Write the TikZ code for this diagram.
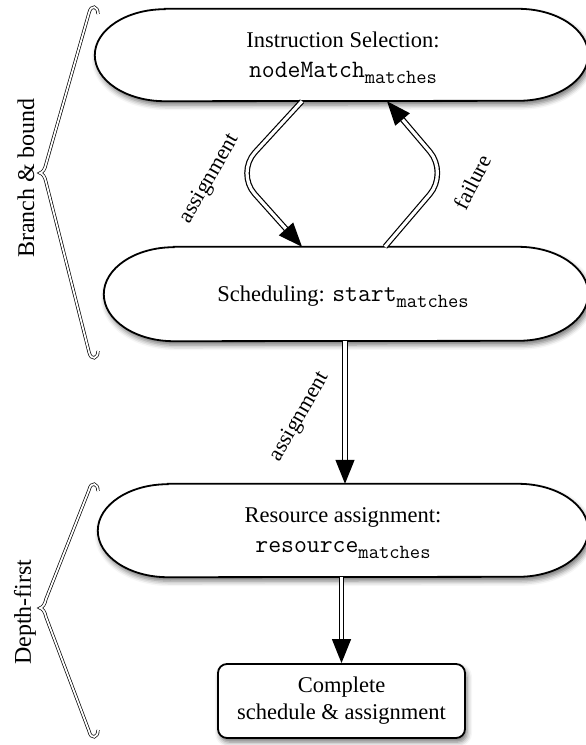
\documentclass[tikz,border=0pt]{standalone}
\usepackage{fontspec}
\setmainfont{Liberation Serif}
\usetikzlibrary{arrows.meta,shadows.blur,calc}
\newcommand\mytt[1]{{\fontsize{25}{30}\selectfont\ttfamily #1}}
\newcommand\mysub[1]{\raisebox{-6pt}{\fontsize{20}{22}\selectfont\ttfamily #1}}
\newcommand\stadium[3]{%
  \path[stadshape] ([xshift=#2]#1.north west) -- ([xshift=-#2]#1.north east)
    arc[start angle=90,end angle=-90,x radius=#2,y radius=#3]
    -- ([xshift=#2]#1.south west)
    arc[start angle=270,end angle=90,x radius=#2,y radius=#3] -- cycle;}
\tikzset{
  stadnode/.style={draw=none, inner sep=0pt},
  stadtext/.style={align=center, inner sep=0pt, font=\fontsize{22.5}{30}\selectfont},
  stadshape/.style={draw=black, line width=1.8pt, fill=white,
    blur shadow={shadow xshift=2pt, shadow yshift=-4pt, shadow blur radius=5pt, shadow opacity=55}},
  endbox/.style={draw=black, line width=1.8pt, fill=white, rounded corners=9pt,
    align=center, inner sep=0pt, font=\fontsize{22.5}{27}\selectfont,
    blur shadow={shadow xshift=2pt, shadow yshift=-4pt, shadow blur radius=5pt, shadow opacity=55}},
  dbl/.style={draw=black, line width=1.2pt, double=white, double distance=3.2pt,
    -{Triangle[length=24pt,width=19pt]}},
  brc/.style={draw=black, line width=0.7pt, double=white, double distance=1.8pt},
  lbl/.style={font=\fontsize{22}{24}\selectfont, inner sep=0pt},
  side/.style={font=\fontsize{24}{26}\selectfont, inner sep=0pt, rotate=90}
}
\begin{document}
\begin{tikzpicture}[x=1pt,y=1pt]
\useasboundingbox (0,0) rectangle (586,-745);
% shape nodes
\node[stadnode, minimum width=493pt, minimum height=92pt] (is) at (341.5,-55) {};
\node[stadnode, minimum width=484pt, minimum height=94pt] (sc) at (346,-294) {};
\node[stadnode, minimum width=490pt, minimum height=93pt] (ra) at (343,-530.5) {};
\stadium{is}{70pt}{46pt}
\stadium{sc}{70pt}{47pt}
\stadium{ra}{70pt}{46.5pt}
% texts
\node[stadtext] (ist) at (343,-58) {Instruction Selection:\\\mytt{nodeMatch}\mysub{matches}};
\node[stadtext] (sct) at (343,-297) {Scheduling: \mytt{start}\mysub{matches}};
\node[stadtext] (rat) at (343,-533) {Resource assignment:\\\mytt{resource}\mysub{matches}};
\node[endbox, minimum width=247pt, minimum height=74pt] (cs) at (341.5,-701)
  {Complete\\schedule \& assignment};
% helper coordinates
\coordinate (xa) at (302,0);
\coordinate (xl) at (236,-173);
\coordinate (xb) at (385,0);
\coordinate (xr) at (448,-173);
\coordinate (xb2) at (387,0);
\coordinate (xv) at (345,0);
% connectors
\draw[dbl, rounded corners=28pt] (is.south -| xa) -- (xl) -- (sc.north -| xa);
\draw[dbl, rounded corners=28pt] (sc.north -| xb) -- (xr) -- (is.south -| xb2);
\draw[dbl] (sc.south -| xv) -- (ra.north -| xv);
\draw[dbl] (ra.south -| cs.north) -- (cs.north);
% labels
\node[lbl, rotate=60] (l1) at (210,-179) {assignment};
\node[lbl, rotate=63] (l2) at (472,-182) {failure};
\node[lbl, rotate=60] (l3) at (300,-417) {assignment};
% braces
\draw[brc] (98,-14) .. controls (98,-6) and (91,-4) .. (89,-13) -- (46,-164)
  .. controls (45,-169) and (43,-172) .. (40,-173)
  .. controls (43,-174) and (45,-177) .. (46,-182) -- (89,-352)
  .. controls (91,-361) and (98,-359) .. (98,-351);
\draw[brc] (98,-491) .. controls (98,-483) and (91,-481) .. (89,-490) -- (46,-599)
  .. controls (45,-604) and (43,-607) .. (40,-608)
  .. controls (43,-609) and (45,-612) .. (46,-617) -- (89,-731)
  .. controls (91,-740) and (98,-738) .. (98,-730);
\node[side] (bb) at (26,-178) {Branch \& bound};
\node[side] (df) at (25,-612) {Depth-first};
\end{tikzpicture}
\end{document}
